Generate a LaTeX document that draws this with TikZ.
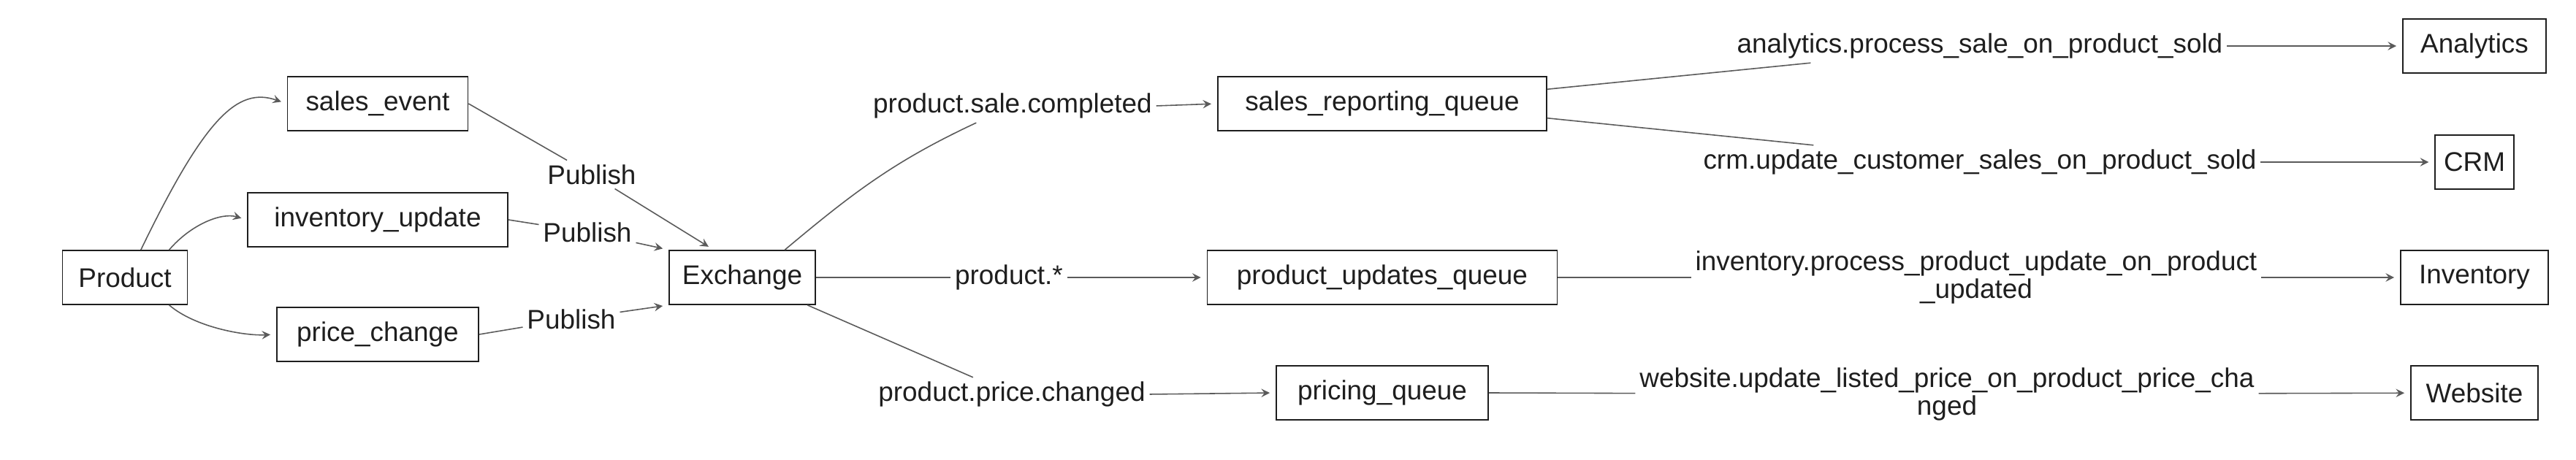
\documentclass[tikz,border=0pt]{standalone}
\usepackage{fontspec}
\setmainfont{Liberation Sans}
\usepackage{tikz}
\usetikzlibrary{arrows}
\definecolor{inkblack}{HTML}{1E1E1E}
\definecolor{linegray}{HTML}{5A5A5A}
\tikzstyle{box} = [rectangle, minimum height=0.74cm, text centered, draw=inkblack, line width=0.5pt, text=inkblack]
\tikzstyle{key} = [inner sep=1.5pt, align=center, text=inkblack]
\tikzstyle{line} = [draw=linegray, line width=0.45pt]
\tikzstyle{arrow} = [line, ->, >=stealth, shorten >=2.3pt]

\begin{document}
\begin{tikzpicture}[node distance=2cm, font=\fontsize{10.5}{10.8}\selectfont]
\useasboundingbox (0,0) rectangle (35.26,-6.30);

\node (product) [box, minimum width=1.71cm] at (1.71,-3.80) {Product};
\node (invupdate) [box, minimum width=3.56cm, right of=product, xshift=1.46cm, yshift=0.79cm] {inventory\_update};
\node (salesevent) [box, minimum width=2.47cm, above of=invupdate, yshift=-0.41cm] {sales\_event};
\node (pricechange) [box, minimum width=2.76cm, below of=invupdate, yshift=0.43cm] {price\_change};
\node (pub1) [key, right of=invupdate, xshift=0.93cm, yshift=0.62cm] {Publish};
\node (pub2) [key, right of=invupdate, xshift=0.87cm, yshift=-0.17cm] {Publish};
\node (pub3) [key, right of=pricechange, xshift=0.65cm, yshift=0.21cm] {Publish};
\node (exchange) [box, minimum width=2cm, right of=product, xshift=6.45cm] {Exchange};

\node (keyall) [key, right of=exchange, xshift=1.65cm] {product.*};
\node (salelbl) [key, above of=keyall, xshift=0.05cm, yshift=0.35cm] {product.sale.completed};
\node (pricelbl) [key, below of=keyall, xshift=0.04cm, yshift=0.40cm] {product.price.changed};
\node (puq) [box, minimum width=4.79cm, right of=keyall, xshift=3.11cm] {product\_updates\_queue};
\node (srq) [box, minimum width=4.50cm, above of=puq, yshift=0.38cm] {sales\_reporting\_queue};
\node (pricingq) [box, minimum width=2.90cm, below of=puq, yshift=0.42cm] {pricing\_queue};

\node (invlbl) [key, right of=puq, xshift=6.13cm] {inventory.process\_product\_update\_on\_product\\\_updated};
\node (crmlbl) [key, above of=invlbl, xshift=0.05cm, yshift=-0.42cm] {crm.update\_customer\_sales\_on\_product\_sold};
\node (anlbl) [key, above of=crmlbl, yshift=-0.41cm] {analytics.process\_sale\_on\_product\_sold};
\node (weblbl) [key, below of=invlbl, xshift=-0.40cm, yshift=0.40cm] {website.update\_listed\_price\_on\_product\_price\_cha\\nged};
\node (inventory) [box, minimum width=2.02cm, right of=invlbl, xshift=4.82cm] {Inventory};
\node (crm) [box, minimum width=1.05cm, above of=inventory, yshift=-0.42cm] {CRM};
\node (analytics) [box, minimum width=1.96cm, above of=crm, yshift=-0.41cm] {Analytics};
\node (website) [box, minimum width=1.74cm, below of=inventory, yshift=0.42cm] {Website};

\draw [arrow] (product.60) .. controls +(0.88,1.82) and +(-0.67,0.23) .. (salesevent.west);
\draw [arrow] (product.32) .. controls +(0.3,0.35) and +(-0.35,0.1) .. (invupdate.west);
\draw [arrow] (product.-32) .. controls +(0.35,-0.3) and +(-0.45,-0.02) .. (pricechange.west);

\draw [line] (salesevent.east) -- (pub1);
\draw [arrow] (pub1) -- (exchange.136);
\draw [line] (invupdate.east) -- (pub2);
\draw [arrow] (pub2) -- (exchange.north west);
\draw [line] (pricechange.east) -- (pub3);
\draw [arrow] (pub3) -- (exchange.south west);

\draw [line] (exchange.33) to [out=40, in=-155] (salelbl);
\draw [arrow] (salelbl.east) -- (srq.west);
\draw [line] (exchange.east) -- (keyall);
\draw [arrow] (keyall) -- (puq);
\draw [line] (exchange.-23) -- (pricelbl);
\draw [arrow] (pricelbl.east) -- (pricingq.west);

\draw [line] (srq.5) -- (anlbl);
\draw [arrow] (anlbl.east) -- (analytics.west);
\draw [line] (srq.-5) -- (crmlbl);
\draw [arrow] (crmlbl.east) -- (crm.west);
\draw [line] (puq.east) -- (invlbl);
\draw [arrow] (invlbl) -- (inventory);
\draw [line] (pricingq.east) -- (weblbl);
\draw [arrow] (weblbl) -- (website);
\end{tikzpicture}
\end{document}
